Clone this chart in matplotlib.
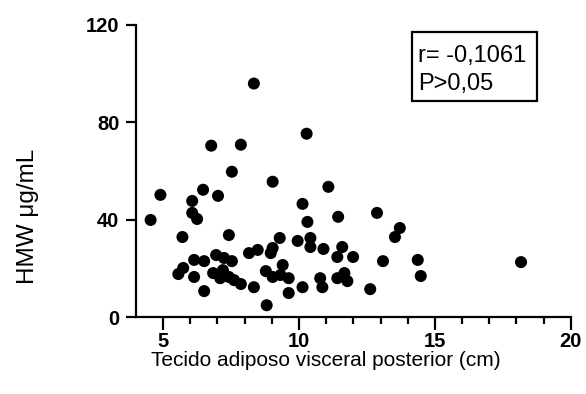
import matplotlib
matplotlib.use("Agg")
import matplotlib.pyplot as plt
from matplotlib.ticker import FixedLocator
from matplotlib.patches import Rectangle

plt.rcParams['font.family'] = ['Liberation Sans', 'DejaVu Sans']

# tecido adiposo visceral posterior (cm)
tav = [8.34, 10.28, 6.77, 7.86, 7.53, 9.03, 11.08, 6.47, 4.90, 7.02,
       6.07, 10.13, 6.07, 6.25, 4.54, 12.87, 11.44, 10.31, 13.71, 13.53,
       5.71, 7.42, 9.29, 9.95, 10.42, 10.42, 10.90, 11.59, 11.41, 11.99,
       8.16, 8.48, 9.03, 8.96, 8.78, 9.40, 9.03, 9.32, 9.62, 8.81,
       8.34, 9.62, 10.13, 10.78, 10.86, 11.67, 11.78, 13.09, 14.37, 14.48,
       12.62, 18.17, 7.86, 6.14, 6.51, 6.95, 7.24, 7.53, 5.74, 5.56,
       6.14, 6.84, 7.20, 7.10, 7.42, 7.61, 6.51, 11.41]
# HMW ug/mL
hmw = [95.9, 75.3, 70.4, 70.8, 59.7, 55.6, 53.5, 52.3, 50.2, 49.8,
       47.7, 46.5, 42.8, 40.3, 39.9, 42.8, 41.2, 39.1, 36.6, 32.9,
       32.9, 33.7, 32.5, 31.3, 32.5, 28.8, 28.0, 28.8, 24.7, 24.7,
       26.3, 27.6, 28.4, 26.3, 18.9, 21.4, 16.5, 17.3, 16.0, 4.9,
       12.3, 9.9, 12.3, 16.0, 12.3, 18.1, 14.8, 23.0, 23.5, 16.9,
       11.5, 22.6, 13.6, 23.5, 23.0, 25.5, 24.3, 23.0, 20.2, 17.7,
       16.5, 18.1, 19.3, 16.0, 16.5, 15.2, 10.7, 16.0]

x_major = [5, 10, 15, 20]
x_minor = [6, 7, 8, 9, 11, 12, 13, 14, 16, 17, 18, 19]
y_major = [0, 40, 80, 120]

fig = plt.figure(figsize=(5.86, 3.94), dpi=100)
ax = fig.add_axes([0.232, 0.195, 0.742, 0.742])

ax.scatter(tav, hmw, s=75, color='black', edgecolors='none', clip_on=False, zorder=3)

ax.set_xlim(4, 20)
ax.set_ylim(0, 120)
ax.xaxis.set_major_locator(FixedLocator(x_major))
ax.xaxis.set_minor_locator(FixedLocator(x_minor))
ax.yaxis.set_major_locator(FixedLocator(y_major))

for s in ['top', 'right']:
    ax.spines[s].set_visible(False)
for s in ['left', 'bottom']:
    ax.spines[s].set_linewidth(1.6)

ax.tick_params(axis='both', which='major', width=1.6, labelsize=14.5)
ax.tick_params(axis='y', which='major', length=7, pad=5)
ax.tick_params(axis='x', which='major', length=9, pad=1.5)
ax.tick_params(axis='x', which='minor', length=5, width=1.6)
for lab in ax.get_xticklabels() + ax.get_yticklabels():
    lab.set_fontweight('bold')

ax.set_xlabel('Tecido adiposo visceral posterior (cm)', fontsize=15)
ax.xaxis.set_label_coords(0.437, -0.117)
ax.set_ylabel('HMW μg/mL', fontsize=17.5)
ax.yaxis.set_label_coords(-0.222, 0.346)

# caixa com estatistica
ax.add_patch(Rectangle((0.634, 0.740), 0.288, 0.236, transform=ax.transAxes,
                       facecolor='white', edgecolor='black', linewidth=1.6, clip_on=False))
ax.text(0.648, 0.873, 'r= -0,1061', transform=ax.transAxes, fontsize=17,
        ha='left', va='baseline')
ax.text(0.648, 0.777, 'P>0,05', transform=ax.transAxes, fontsize=17,
        ha='left', va='baseline')

fig.savefig('out.png', dpi=100)
